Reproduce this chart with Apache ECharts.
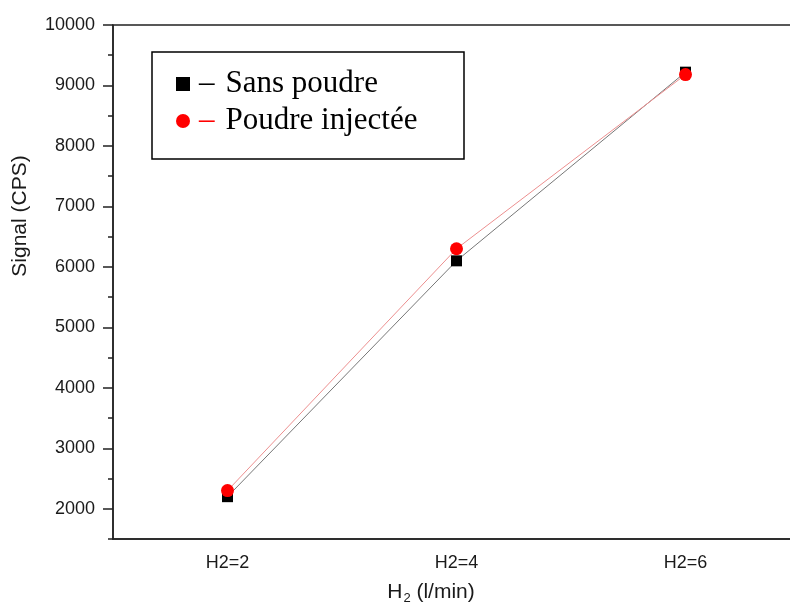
<!DOCTYPE html>
<html>
<head>
<meta charset="utf-8">
<script src="https://cdn.jsdelivr.net/npm/echarts@6/dist/echarts.min.js"></script>
<style>
  html, body { margin: 0; padding: 0; background: #fff; }
  #chart { width: 790px; height: 610px; }
</style>
</head>
<body>
<div id="chart"></div>
<script>
const categories = ['H2=2', 'H2=4', 'H2=6']
const sansPoudre = [2200, 6100, 9220]
const poudreInjectee = [2300, 6300, 9180]
const yMajorTicks = [2000, 3000, 4000, 5000, 6000, 7000, 8000, 9000, 10000]
const yMinorTicks = [1500, 2500, 3500, 4500, 5500, 6500, 7500, 8500, 9500]

const AXIS = '#222'
const LABEL = { fontFamily: 'Liberation Sans, Arial', fontSize: 18, color: '#1a1a1a' }
const SERIF = 'Liberation Serif, Times New Roman'

const chart = echarts.init(document.getElementById('chart'))

chart.setOption({
  animation: false,
  // plot runs past the right edge of the picture, so the right frame is cut off
  grid: {
    left: 113, width: 687, top: 25, height: 514,
    outerBoundsMode: 'none',
    show: true, borderColor: AXIS, borderWidth: 1.5, backgroundColor: 'transparent',
  },
  legend: {
    left: 171, top: 63,
    orient: 'vertical',
    itemWidth: 14, itemHeight: 14, itemGap: 5,
    data: [
      { name: 'Sans poudre', icon: 'rect' },
      { name: 'Poudre injectée', icon: 'circle' },
    ],
    formatter: name => name === 'Sans poudre'
      ? '{k|–}{t|Sans poudre}'
      : '{r|–}{t|Poudre injectée}',
    textStyle: {
      lineHeight: 32,
      rich: {
        k: { fontFamily: SERIF, fontSize: 31, color: '#000', padding: [0, 11, 0, 4] },
        r: { fontFamily: SERIF, fontSize: 31, color: '#f00', padding: [0, 11, 0, 4] },
        t: { fontFamily: SERIF, fontSize: 31, color: '#000' },
      },
    },
  },
  xAxis: [
    {
      type: 'category',
      data: categories,
      boundaryGap: true,
      axisLine: { lineStyle: { color: AXIS, width: 1.5 } },
      axisTick: { alignWithLabel: true, length: 10, lineStyle: { color: AXIS, width: 1.5 } },
      axisLabel: { ...LABEL, margin: 15 },
      splitLine: { show: false },
    },
    {
      type: 'category',
      data: categories,
      boundaryGap: true,
      position: 'bottom',
      axisLine: { show: false },
      axisTick: { alignWithLabel: false, length: 5, lineStyle: { color: AXIS, width: 1.5 } },
      axisLabel: { show: false },
      splitLine: { show: false },
    },
  ],
  yAxis: [
    {
      type: 'value',
      min: 1500,
      max: 10000,
      axisLine: { show: true, lineStyle: { color: AXIS, width: 1.5 } },
      axisTick: { show: true, length: 10, customValues: yMajorTicks, lineStyle: { color: AXIS, width: 1.5 } },
      axisLabel: { ...LABEL, margin: 18, customValues: yMajorTicks, formatter: v => String(v) },
      splitLine: { show: false },
    },
    {
      type: 'value',
      min: 1500,
      max: 10000,
      position: 'left',
      axisLine: { show: false },
      axisTick: { show: true, length: 5, customValues: yMinorTicks, lineStyle: { color: AXIS, width: 1.5 } },
      axisLabel: { show: false, customValues: yMinorTicks },
      splitLine: { show: false },
    },
  ],
  graphic: [
    {
      type: 'rect',
      shape: { x: 152, y: 52, width: 312, height: 107 },
      style: { fill: 'transparent', stroke: '#000', lineWidth: 1.5 },
      z: 100,
    },
    {
      type: 'text',
      x: 20, y: 216,
      rotation: Math.PI / 2,
      style: {
        text: 'Signal (CPS)',
        font: '21px Liberation Sans, Arial',
        fill: '#1a1a1a',
        align: 'center',
        verticalAlign: 'middle',
      },
    },
    {
      type: 'text',
      x: 431, y: 592,
      style: {
        text: '{h|H}{s|2}{h| (l/min)}',
        align: 'center',
        verticalAlign: 'middle',
        rich: {
          h: { fontFamily: 'Liberation Sans, Arial', fontSize: 21, fill: '#1a1a1a', color: '#1a1a1a' },
          s: { fontFamily: 'Liberation Sans, Arial', fontSize: 13, fill: '#1a1a1a', color: '#1a1a1a', padding: [13, 0, 0, 1] },
        },
      },
    },
  ],
  series: [
    {
      name: 'Sans poudre',
      type: 'line',
      data: sansPoudre,
      symbol: 'rect',
      symbolSize: 11,
      itemStyle: { color: '#000' },
      lineStyle: { color: '#777', width: 1 },
      z: 3,
    },
    {
      name: 'Poudre injectée',
      type: 'line',
      data: poudreInjectee,
      symbol: 'circle',
      symbolSize: 13,
      itemStyle: { color: '#f00' },
      lineStyle: { color: '#ec8f8f', width: 1 },
      z: 4,
    },
  ],
})
</script>
</body>
</html>
